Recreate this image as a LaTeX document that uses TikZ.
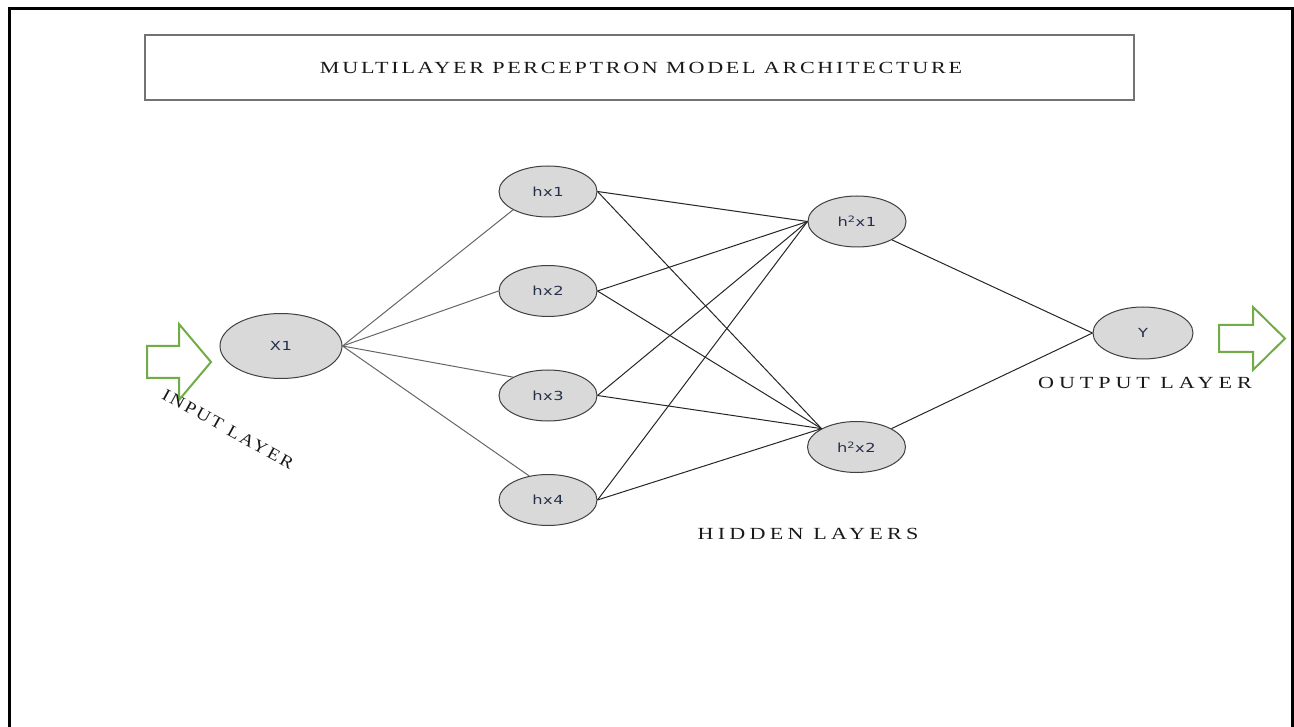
\documentclass[tikz,border=0pt]{standalone}
\usepackage{fontspec}
\setmainfont{Liberation Serif}
\newfontfamily\titlefont[FakeStretch=1.3,LetterSpace=16]{Liberation Serif}
\newfontfamily\hidfont[FakeStretch=1.3,LetterSpace=25]{Liberation Serif}
\newfontfamily\outfont[FakeStretch=1.3,LetterSpace=29]{Liberation Serif}
\newfontfamily\infont[FakeStretch=1.15,LetterSpace=14]{Liberation Serif}
\newfontfamily\nodefont[FakeStretch=1.3,LetterSpace=5]{DejaVu Sans}
\usetikzlibrary{shapes.geometric}
\definecolor{arrowgreen}{HTML}{70AD47}
\definecolor{nodetext}{HTML}{25304A}
\tikzset{
  neuron/.style={ellipse, draw=black!75, line width=1pt, fill=black!15, inner sep=0pt,
    minimum width=98pt, minimum height=51pt, text=nodetext,
    font=\nodefont\fontsize{12.5}{14}\selectfont},
  link/.style={draw=black!85, line width=1pt},
  lightlink/.style={draw=black!60, line width=1pt},
  fatarrow/.style={draw=arrowgreen, line width=2pt, fill=white, line join=miter},
  caption/.style={inner sep=0pt, text=black!90},
  titlebox/.style={draw=black!55, line width=1.8pt, minimum width=989pt, minimum height=65pt, inner sep=0pt}
}
\begin{document}
\begin{tikzpicture}[x=1pt,y=-1pt]
\useasboundingbox (0,0) rectangle (1294,727);
% outer frame
\draw[line width=3pt] (9,727) -- (9,9) -- (1292,9) -- (1292,727);
% title
\node[titlebox] (title) at (639.5,67.5) {};
\node[caption, font=\titlefont\fontsize{17}{19}\selectfont] (titletext) at (641,68) {MULTILAYER PERCEPTRON MODEL ARCHITECTURE};
% nodes
\node[neuron, minimum width=122pt, minimum height=65pt] (x1) at (281,346) {X1};
\node[neuron] (hx1) at (548,191.5) {hx1};
\node[neuron] (hx2) at (548,291) {hx2};
\node[neuron] (hx3) at (548,395.5) {hx3};
\node[neuron] (hx4) at (548,500) {hx4};
\node[neuron] (h21) at (857,221.5) {h\textsuperscript{2}x1};
\node[neuron] (h22) at (856.5,447) {h\textsuperscript{2}x2};
\node[neuron, minimum width=100pt, minimum height=52pt] (y) at (1143,333) {Y};
% connections input -> hidden 1
\draw[lightlink] (x1.east) -- (hx1.south west);
\draw[lightlink] (x1.east) -- (hx2.west);
\draw[lightlink] (x1.east) -- (hx3.north west);
\draw[lightlink] (x1.east) -- (hx4.128);
% hidden 1 -> hidden 2
\foreach \h in {hx1,hx2,hx3,hx4}{
  \draw[link] (\h.east) -- (h21.west);
  \draw[link] (\h.east) -- (h22.north west);
}
% hidden 2 -> output
\draw[link] (h21.south east) -- (y.west);
\draw[link] (h22.north east) -- (y.west);
% arrows
\draw[fatarrow] (147,346) -- (179,346) -- (179,324) -- (211,362) -- (179,400) -- (179,378) -- (147,378) -- cycle;
\draw[fatarrow] (1219,325) -- (1253,325) -- (1253,307) -- (1285,338.5) -- (1253,370) -- (1253,352) -- (1219,352) -- cycle;
% labels
\node[caption, font=\infont\fontsize{17}{19}\selectfont, rotate=-29] (inlabel) at (228,429) {INPUT LAYER};
\node[caption, font=\outfont\fontsize{17}{19}\selectfont] (outlabel) at (1145,383) {OUTPUT LAYER};
\node[caption, font=\hidfont\fontsize{17}{19}\selectfont] (hidlabel) at (808,534) {HIDDEN LAYERS};
\end{tikzpicture}
\end{document}
